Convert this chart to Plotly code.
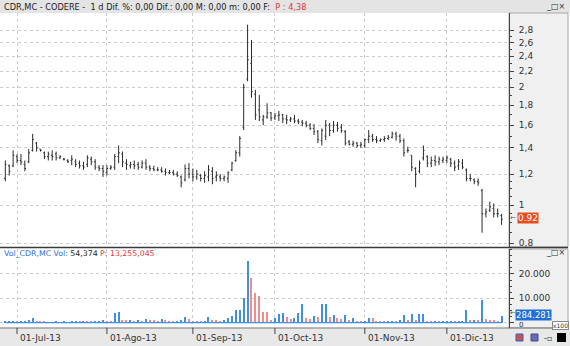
import pandas as pd
import plotly.graph_objects as go

# ---------------- data ----------------
dates = [d.strftime("%Y-%m-%d") for d in pd.bdate_range("2013-06-26", "2013-12-20")]

high = [1.30, 1.27, 1.38, 1.35, 1.35, 1.30, 1.39, 1.52, 1.45, 1.39,
        1.37, 1.37, 1.38, 1.37, 1.34, 1.32, 1.31, 1.34, 1.31, 1.30,
        1.29, 1.34, 1.33, 1.31, 1.265, 1.265, 1.265, 1.265, 1.35, 1.42,
        1.37, 1.31, 1.29, 1.30, 1.29, 1.30, 1.31, 1.265, 1.26, 1.25,
        1.25, 1.24, 1.23, 1.23, 1.22, 1.19, 1.27, 1.28, 1.24, 1.23,
        1.20, 1.22, 1.265, 1.25, 1.22, 1.20, 1.19, 1.22, 1.29, 1.38,
        1.50, 2.04, 2.89, 2.64, 1.97, 1.91, 1.70, 1.82, 1.73, 1.72,
        1.74, 1.71, 1.70, 1.68, 1.70, 1.66, 1.65, 1.64, 1.62, 1.61,
        1.555, 1.57, 1.65, 1.62, 1.64, 1.63, 1.61, 1.555, 1.466, 1.46,
        1.45, 1.45, 1.48, 1.555, 1.52, 1.50, 1.48, 1.50, 1.51, 1.54,
        1.54, 1.52, 1.48, 1.41, 1.34, 1.25, 1.30, 1.42, 1.34, 1.33,
        1.34, 1.33, 1.33, 1.34, 1.32, 1.30, 1.31, 1.31, 1.24, 1.20,
        1.17, 1.17, 1.10, 0.98, 1.02, 1.01, 0.98, 0.95]
low = [1.15, 1.19, 1.25, 1.28, 1.265, 1.22, 1.28, 1.37, 1.37, 1.37,
       1.31, 1.30, 1.30, 1.30, 1.31, 1.30, 1.28, 1.265, 1.25, 1.24,
       1.23, 1.25, 1.265, 1.23, 1.22, 1.18, 1.19, 1.23, 1.23, 1.28,
       1.25, 1.23, 1.24, 1.235, 1.23, 1.24, 1.23, 1.22, 1.22, 1.22,
       1.21, 1.19, 1.20, 1.19, 1.18, 1.11, 1.15, 1.17, 1.15, 1.16,
       1.15, 1.14, 1.15, 1.13, 1.15, 1.15, 1.15, 1.14, 1.22, 1.29,
       1.33, 1.555, 2.07, 1.88, 1.65, 1.64, 1.60, 1.66, 1.64, 1.65,
       1.64, 1.62, 1.61, 1.63, 1.62, 1.61, 1.59, 1.58, 1.555, 1.51,
       1.44, 1.42, 1.466, 1.50, 1.53, 1.54, 1.53, 1.42, 1.42, 1.41,
       1.40, 1.40, 1.40, 1.44, 1.45, 1.44, 1.45, 1.45, 1.466, 1.48,
       1.46, 1.44, 1.33, 1.36, 1.22, 1.11, 1.205, 1.30, 1.25, 1.25,
       1.26, 1.265, 1.28, 1.28, 1.25, 1.22, 1.23, 1.235, 1.15, 1.15,
       1.13, 1.12, 0.85, 0.93, 0.96, 0.93, 0.93, 0.89]
open_ = [1.17, 1.26, 1.26, 1.33, 1.30, 1.27, 1.29, 1.38, 1.44, 1.39,
         1.36, 1.33, 1.34, 1.35, 1.32, 1.31, 1.30, 1.30, 1.29, 1.28,
         1.26, 1.27, 1.31, 1.29, 1.25, 1.24, 1.21, 1.24, 1.25, 1.33,
         1.35, 1.28, 1.26, 1.27, 1.27, 1.25, 1.28, 1.25, 1.24, 1.23,
         1.23, 1.22, 1.21, 1.21, 1.20, 1.18, 1.16, 1.24, 1.20, 1.18,
         1.19, 1.17, 1.18, 1.22, 1.18, 1.18, 1.17, 1.17, 1.23, 1.30,
         1.36, 1.58, 2.10, 2.30, 1.92, 1.75, 1.65, 1.68, 1.72, 1.67,
         1.69, 1.70, 1.66, 1.65, 1.66, 1.64, 1.63, 1.62, 1.60, 1.57,
         1.54, 1.46, 1.50, 1.60, 1.55, 1.60, 1.58, 1.54, 1.45, 1.43,
         1.44, 1.42, 1.42, 1.47, 1.50, 1.47, 1.46, 1.47, 1.48, 1.49,
         1.52, 1.50, 1.46, 1.38, 1.34, 1.24, 1.22, 1.32, 1.33, 1.28,
         1.30, 1.29, 1.30, 1.30, 1.31, 1.28, 1.26, 1.28, 1.23, 1.17,
         1.16, 1.15, 1.09, 0.95, 0.97, 0.98, 0.95, 0.94]
close = [1.27, 1.22, 1.34, 1.30, 1.29, 1.24, 1.36, 1.47, 1.40, 1.38,
         1.33, 1.35, 1.33, 1.32, 1.33, 1.31, 1.29, 1.31, 1.27, 1.26,
         1.25, 1.32, 1.29, 1.25, 1.24, 1.22, 1.24, 1.25, 1.33, 1.36,
         1.29, 1.27, 1.27, 1.26, 1.25, 1.28, 1.25, 1.24, 1.23, 1.23,
         1.22, 1.21, 1.21, 1.20, 1.19, 1.14, 1.24, 1.20, 1.18, 1.20,
         1.17, 1.19, 1.23, 1.17, 1.19, 1.17, 1.18, 1.21, 1.28, 1.36,
         1.48, 2.00, 2.35, 1.95, 1.70, 1.68, 1.68, 1.72, 1.67, 1.69,
         1.70, 1.66, 1.65, 1.66, 1.64, 1.63, 1.62, 1.60, 1.57, 1.54,
         1.47, 1.55, 1.60, 1.55, 1.60, 1.57, 1.55, 1.44, 1.43, 1.44,
         1.42, 1.43, 1.47, 1.50, 1.47, 1.46, 1.47, 1.48, 1.49, 1.52,
         1.50, 1.46, 1.36, 1.38, 1.25, 1.20, 1.28, 1.38, 1.28, 1.30,
         1.29, 1.31, 1.31, 1.32, 1.28, 1.25, 1.29, 1.25, 1.17, 1.17,
         1.15, 1.14, 0.95, 0.96, 0.99, 0.95, 0.95, 0.92]
# volume in hundreds of shares (axis unit x100)
volume = [500, 600, 700, 700, 800, 900, 1100, 1800, 900, 500,
          300, 200, 200, 300, 200, 300, 200, 300, 400, 300,
          500, 400, 300, 600, 700, 1000, 800, 800, 4100, 4200,
          1300, 1000, 1300, 700, 1100, 800, 1600, 1100, 1000, 600,
          1700, 1100, 500, 400, 900, 1000, 2200, 1400, 400, 300,
          300, 400, 2400, 1100, 1000, 800, 1100, 1800, 2700, 5200,
          5400, 10200, 25400, 18200, 12300, 10900, 4500, 4400, 1100, 2000,
          3400, 4100, 2500, 1500, 2000, 3800, 7600, 1800, 1700, 2700,
          2300, 7500, 7600, 2400, 3000, 2000, 1500, 3100, 1300, 1800,
          600, 500, 900, 2000, 1800, 900, 700, 600, 700, 900,
          800, 1000, 3100, 1100, 3400, 1000, 3400, 3500, 700, 600,
          700, 500, 600, 700, 800, 600, 700, 900, 5200, 1100,
          1300, 1200, 9300, 1400, 1100, 1000, 900, 2842.81]

month_starts = ["2013-07-01", "2013-08-01", "2013-09-02", "2013-10-01", "2013-11-01", "2013-12-02"]
month_labels = ["01-Jul-13", "01-Ago-13", "01-Sep-13", "01-Oct-13", "01-Nov-13", "01-Dic-13"]
price_ticks = [0.8, 1, 1.2, 1.4, 1.6, 1.8, 2, 2.2, 2.4, 2.6, 2.8]
price_minor = [0.85, 0.9, 0.95, 1.05, 1.1, 1.15, 1.3, 1.5, 1.7, 1.9, 2.1, 2.3, 2.5, 2.7]
vol_ticks = [0, 10000, 20000]
vol_tick_text = ["", "10.000", "20.000"]
last_price_text = "0.92"
last_vol_text = "284.281"

# ---------------- figure ----------------
W, H = 570, 346
idx = list(range(len(dates)))
tick_idx = [dates.index(d) for d in month_starts]

def py(y):  # pixel row -> paper y
    return 1 - y / H

def px(x):
    return x / W

BLUE = "#3f8fe3"
RED = "#f08c8c"
vol_colors = [BLUE] + [BLUE if volume[i] > volume[i - 1] else RED for i in range(1, len(volume))]

fig = go.Figure()
fig.add_trace(go.Ohlc(
    x=idx, open=open_, high=high, low=low, close=close,
    increasing=dict(line=dict(color="#2a2a2a", width=1)),
    decreasing=dict(line=dict(color="#2a2a2a", width=1)),
    tickwidth=0.3, xaxis="x", yaxis="y", showlegend=False,
    text=dates, hoverinfo="text+y"))
fig.add_trace(go.Bar(
    x=idx, y=volume, marker=dict(color=vol_colors, line=dict(width=0)),
    width=0.28, xaxis="x2", yaxis="y2", showlegend=False))
fig.add_trace(go.Scatter(
    x=idx, y=[0] * len(idx), mode="lines", line=dict(color=BLUE, width=1.2),
    xaxis="x2", yaxis="y2", showlegend=False, hoverinfo="skip"))

x_right = 509
xr = [-1.36, 128.9]
grid = dict(showgrid=True, gridcolor="#cccccc", griddash="dot", gridwidth=1)
fig.update_layout(
    width=W, height=H, margin=dict(l=0, r=0, t=0, b=0),
    paper_bgcolor="white", plot_bgcolor="white",
    font=dict(family="DejaVu Sans", size=9, color="#333"),
    bargap=0,
    xaxis=dict(domain=[0, px(x_right)], range=xr, tickmode="array", tickvals=tick_idx,
               showticklabels=False, ticks="", zeroline=False, rangeslider=dict(visible=False),
               anchor="y", **grid),
    xaxis2=dict(domain=[0, px(x_right)], range=xr, tickmode="array", tickvals=tick_idx,
                showticklabels=False, ticks="", zeroline=False, anchor="y2", matches="x", **grid),
    yaxis=dict(domain=[py(247), py(13)], type="log",
               range=[-0.1071, 0.4907], side="right", anchor="x",
               tickmode="array", tickvals=price_ticks,
               ticktext=[str(v).replace(".", ",") for v in price_ticks],
               ticks="outside", ticklen=4, tickcolor="#444", tickwidth=1,
               showline=True, linecolor="#444", linewidth=1,
               tickfont=dict(size=9, color="#333", family="DejaVu Sans"),
               ticklabelstandoff=3, zeroline=False,
               minor=dict(tickvals=price_minor, ticks="outside", ticklen=2, tickcolor="#444", showgrid=False),
               **grid),
    yaxis2=dict(domain=[py(328), py(249)], range=[-2170, 30220], side="right", anchor="x2",
                tickmode="array", tickvals=vol_ticks, ticktext=vol_tick_text,
                ticks="outside", ticklen=4, tickcolor="#444",
                showline=True, linecolor="#444", linewidth=1,
                tickfont=dict(size=9, color="#333", family="DejaVu Sans"),
                ticklabelstandoff=3, zeroline=False,
                minor=dict(dtick=2500, ticks="outside", ticklen=2, tickcolor="#444", showgrid=False),
                **grid),
)

shapes = []
# header bar
shapes.append(dict(type="rect", xref="paper", yref="paper", x0=0, x1=1, y0=py(13), y1=1,
                   fillcolor="#e4e4e4", line=dict(width=0), layer="below"))
# right panels
shapes.append(dict(type="rect", xref="paper", yref="paper", x0=px(x_right), x1=px(568),
                   y0=py(247), y1=py(13), fillcolor="#f0f0f0", line=dict(color="#a8a8a8", width=1), layer="below"))
shapes.append(dict(type="rect", xref="paper", yref="paper", x0=px(x_right), x1=px(568),
                   y0=py(328), y1=py(249), fillcolor="#f0f0f0", line=dict(color="#a8a8a8", width=1), layer="below"))
# bottom strip
shapes.append(dict(type="rect", xref="paper", yref="paper", x0=0, x1=1, y0=0, y1=py(328.5),
                   fillcolor="#e8e8e8", line=dict(width=0), layer="below"))
shapes.append(dict(type="line", xref="paper", yref="paper", x0=0, x1=px(568), y0=py(328), y1=py(328),
                   line=dict(color="#707070", width=1)))
# divider between panels
shapes.append(dict(type="line", xref="paper", yref="paper", x0=0, x1=px(568), y0=py(247.5), y1=py(247.5),
                   line=dict(color="#3a3a3a", width=1.5)))
# date ticks on strip
for t in tick_idx:
    shapes.append(dict(type="line", xref="x", yref="paper", x0=t, x1=t, y0=py(334), y1=py(328),
                       line=dict(color="#444", width=1)))
# bottom-right icons
shapes.append(dict(type="rect", xref="paper", yref="paper", x0=px(557), x1=px(566), y0=py(342), y1=py(333),
                   fillcolor="#000", line=dict(width=0)))
shapes.append(dict(type="rect", xref="paper", yref="paper", x0=px(531), x1=px(538), y0=py(341), y1=py(334),
                   fillcolor="#6a6ab8", line=dict(color="#44448a", width=1)))
shapes.append(dict(type="rect", xref="paper", yref="paper", x0=px(516), x1=px(523), y0=py(341), y1=py(334),
                   fillcolor="#d05050", line=dict(color="#3060c0", width=1)))
fig.update_layout(shapes=shapes)

ann = []
ann.append(dict(xref="paper", yref="paper", x=px(2), y=py(6.5), xanchor="left", yanchor="middle",
                text="CDR,MC - CODERE -  1 d Dif. %: 0,00 Dif.: 0,00 M: 0,00 m: 0,00 F:  "
                     "<span style='color:#e03a3a'>P : 4,38</span>",
                showarrow=False, font=dict(size=8.2, color="#222", family="DejaVu Sans")))
ann.append(dict(xref="paper", yref="paper", x=px(2), y=py(253), xanchor="left", yanchor="middle",
                text="<span style='color:#2f72d0'>Vol_CDR,MC Vol:</span> 54,374 "
                     "<span style='color:#e03a3a'>P: 13,255,045</span>",
                showarrow=False, font=dict(size=7.8, color="#222", family="DejaVu Sans")))
for t, lab in zip(tick_idx, month_labels):
    ann.append(dict(xref="x", yref="paper", x=t, y=py(337.5), xanchor="left", yanchor="middle",
                    xshift=1, text=lab, showarrow=False, font=dict(size=9, color="#333")))
# window buttons
for yy in (7, 252):
    ann.append(dict(xref="paper", yref="paper", x=px(567), y=py(yy), xanchor="right", yanchor="middle",
                    text="_□×", showarrow=False, font=dict(size=8, color="#333")))
# last price / volume labels
ann.append(dict(xref="paper", yref="paper", x=px(527.5), y=py(217.5), xanchor="center", yanchor="middle",
                text=last_price_text, showarrow=False, bgcolor="#e84b1c", borderpad=0,
                font=dict(size=9, color="white")))
ann.append(dict(xref="paper", yref="paper", x=px(533), y=py(314.5), xanchor="center", yanchor="middle",
                text=last_vol_text, showarrow=False, bgcolor="#1f6fd6", borderpad=0,
                font=dict(size=8.5, color="white")))
# volume zero label, peeking out under the last-volume box
ann.append(dict(xref="paper", yref="paper", x=px(517), y=py(324.5), xanchor="left", yanchor="middle",
                text="0", showarrow=False, font=dict(size=7, color="#333")))
ann.append(dict(xref="paper", yref="paper", x=px(513), y=py(218), xanchor="center", yanchor="middle",
                text="←", showarrow=False, font=dict(size=7, color="#555")))
ann.append(dict(xref="paper", yref="paper", x=px(513), y=py(313), xanchor="center", yanchor="middle",
                text="←", showarrow=False, font=dict(size=7, color="#555")))
ann.append(dict(xref="paper", yref="paper", x=px(560.5), y=py(325), xanchor="center", yanchor="middle",
                text="x100", showarrow=False, bgcolor="white", bordercolor="#888", borderwidth=1, borderpad=0,
                font=dict(size=6, color="#333")))
ann.append(dict(xref="paper", yref="paper", x=px(548), y=py(338), xanchor="center", yanchor="middle",
                text="-▫", showarrow=False, font=dict(size=8, color="#333")))
fig.update_layout(annotations=ann)

fig.write_html("out.html")
